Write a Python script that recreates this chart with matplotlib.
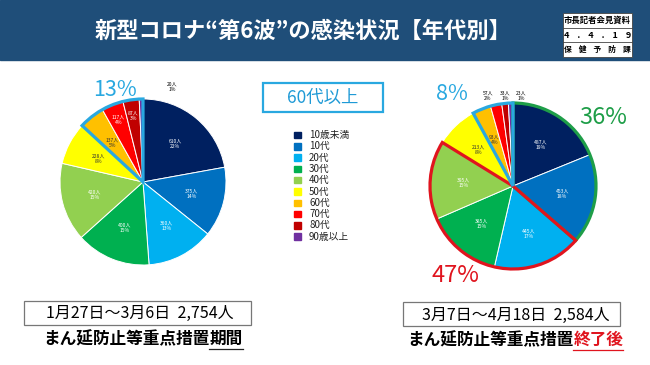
import matplotlib
matplotlib.use("Agg")
import matplotlib.pyplot as plt
from matplotlib.patches import Rectangle, Wedge
import numpy as np

plt.rcParams['font.family'] = ['Noto Sans CJK JP', 'DejaVu Sans']

# data
ages = ["10歳未満", "10代", "20代", "30代", "40代", "50代", "60代", "70代", "80代", "90歳以上"]
colors = ["#002060", "#0070c0", "#00b0f0", "#00b050", "#92d050",
          "#ffff00", "#ffc000", "#ff0000", "#c00000", "#7030a0"]
before = [610, 375, 360, 400, 420, 228, 137, 117, 87, 20]     # 1/27-3/6, total 2,754
after = [487, 453, 445, 385, 395, 213, 93, 57, 33, 23]        # 3/7-4/18, total 2,584

W, H = 650, 365
fig = plt.figure(figsize=(6.5, 3.65), dpi=100)
ax = fig.add_axes([0, 0, 1, 1])


def Y(y):
    # image y (top-down) -> data y
    return H - y


def draw_pie(vals, cx, cy, r, outside):
    total = sum(vals)
    wedges, _ = ax.pie(vals, colors=colors, startangle=90, counterclock=False,
                       center=(cx, Y(cy)), radius=r,
                       wedgeprops=dict(edgecolor="white", linewidth=0.7))
    for i, (w, v) in enumerate(zip(wedges, vals)):
        if i in outside:
            continue
        mid = np.deg2rad((w.theta1 + w.theta2) / 2)
        tc = "#333333" if i in (5, 6) else "white"
        ax.text(cx + 0.6 * r * np.cos(mid), Y(cy) + 0.6 * r * np.sin(mid),
                f"{v}人\n{round(v / total * 100)}%", fontsize=3.6, color=tc,
                ha="center", va="center", linespacing=1.1)
    return wedges


def outline(wedges, i0, i1, cx, cy, r, color):
    t1 = wedges[i1].theta1
    t2 = wedges[i0].theta2
    ax.add_patch(Wedge((cx, Y(cy)), r, t1, t2, fill=False, edgecolor=color,
                       linewidth=2.3, joinstyle="miter"))


# header
ax.add_patch(Rectangle((0, Y(60)), W, 60, color="#1f4e79", zorder=0))
ax.text(303, Y(31), "新型コロナ“第6波”の感染状況【年代別】", fontsize=16,
        color="white", ha="center", va="center", fontweight="bold")
ax.add_patch(Rectangle((563, Y(57)), 69, 44, facecolor="white", edgecolor="#444444", lw=0.6))
for yy in (27.7, 42.3):
    ax.plot([563, 632], [Y(yy), Y(yy)], color="#444444", lw=0.6)
ax.text(597.5, Y(20.3), "市長記者会見資料", fontsize=6, ha="center", va="center", fontweight="bold")
ax.text(597.5, Y(35), "4    .    4    .    1    9", fontsize=6.5, ha="center", va="center",
        fontweight="bold")
ax.text(597.5, Y(49.7), "保    健    予    防    課", fontsize=5.6, ha="center", va="center",
        fontweight="bold")

# left pie
cxl, cyl, rl = 143, 182, 83
wl = draw_pie(before, cxl, cyl, rl, outside=[7, 8, 9])
for i in (7, 8):
    w = wl[i]
    mid = np.deg2rad((w.theta1 + w.theta2) / 2)
    ax.text(cxl + 0.8 * rl * np.cos(mid), Y(cyl) + 0.8 * rl * np.sin(mid),
            f"{before[i]}人\n{round(before[i] / sum(before) * 100)}%", fontsize=3.6,
            color="white", ha="center", va="center", linespacing=1.1)
ax.text(172, Y(87), f"{before[9]}人\n1%", fontsize=3.6, ha="center", va="center", linespacing=1.1)
outline(wl, 6, 9, cxl, cyl, rl, "#29a8e0")
ax.text(115, Y(90), "13%", fontsize=15.5, color="#29a8e0", ha="center", va="center")

# right pie
cxr, cyr, rr = 513, 186, 83
wr = draw_pie(after, cxr, cyr, rr, outside=[7, 8, 9])
for i, xx in zip((7, 8, 9), (488, 505, 521)):
    ax.text(xx, Y(96), f"{after[i]}人\n{round(after[i] / sum(after) * 100)}%", fontsize=3.6,
            ha="center", va="center", linespacing=1.1)
outline(wr, 0, 1, cxr, cyr, rr, "#1e9e48")
outline(wr, 2, 4, cxr, cyr, rr, "#e0141e")
outline(wr, 6, 9, cxr, cyr, rr, "#29a8e0")
ax.text(452, Y(94), "8%", fontsize=15.5, color="#29a8e0", ha="center", va="center")
ax.text(603, Y(118), "36%", fontsize=17, color="#1e9e48", ha="center", va="center")
ax.text(455, Y(275), "47%", fontsize=17, color="#e0141e", ha="center", va="center")

# 60代以上 box and legend
ax.add_patch(Rectangle((263, Y(112)), 120, 29, fill=False, edgecolor="#29a8e0", lw=1.6))
ax.text(323, Y(97.5), "60代以上", fontsize=12.5, color="#1f9ad6", ha="center", va="center")
for k, (lab, c) in enumerate(zip(ages, colors)):
    yy = 135 + k * 11.3
    ax.add_patch(Rectangle((294, Y(yy) - 3.2), 6.5, 6.5, color=c))
    ax.text(309, Y(yy), lab, fontsize=7, ha="left", va="center", color="#222222")

# bottom period boxes
ax.add_patch(Rectangle((24, Y(325)), 227, 24, fill=False, edgecolor="#777777", lw=0.9))
ax.text(140, Y(313), "1月27日～3月6日  2,754人", fontsize=11.5, ha="center", va="center")
ax.add_patch(Rectangle((403, Y(326)), 217, 24, fill=False, edgecolor="#777777", lw=0.9))
ax.text(516, Y(315), "3月7日～4月18日  2,584人", fontsize=11.5, ha="center", va="center")

# pie() resets limits/aspect, so fix them before measuring text
ax.set_xlim(0, W)
ax.set_ylim(0, H)
ax.set_aspect("auto")
ax.axis("off")
fig.canvas.draw()
rend = fig.canvas.get_renderer()
inv = ax.transData.inverted()


def extent(t):
    bb = t.get_window_extent(rend)
    (x0, y0), (x1, y1) = inv.transform([(bb.x0, bb.y0), (bb.x1, bb.y1)])
    return x0, x1


# left caption, "期間" underlined
t1 = ax.text(43, Y(339), "まん延防止等重点措置", fontsize=12, ha="left", va="center",
             fontweight="bold")
a0, a1 = extent(t1)
t2 = ax.text(a1, Y(339), "期間", fontsize=12, ha="left", va="center", fontweight="bold")
b0, b1 = extent(t2)
ax.plot([b0, b1], [Y(348.5), Y(348.5)], color="#222222", lw=0.9)

# right caption, "終了後" red and underlined
t3 = ax.text(407, Y(340), "まん延防止等重点措置", fontsize=12, ha="left", va="center",
             fontweight="bold")
c0, c1 = extent(t3)
t4 = ax.text(c1, Y(340), "終了後", fontsize=12, ha="left", va="center", fontweight="bold",
             color="#e0141e")
d0, d1 = extent(t4)
ax.plot([d0, d1], [Y(349.5), Y(349.5)], color="#e0141e", lw=0.9)

fig.savefig("out.png", dpi=100)
